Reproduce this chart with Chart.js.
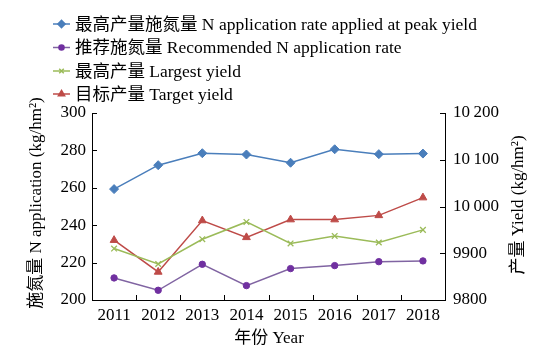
<!DOCTYPE html>
<html><head><meta charset="utf-8">
<script src="https://cdn.jsdelivr.net/npm/chart.js@4/dist/chart.umd.min.js"></script>
<style>html,body{margin:0;padding:0;background:#fff}#wrap{width:545px;height:355px}</style>
</head><body><div id="wrap"><canvas id="c" width="545" height="355"></canvas></div>
<script>
const years = ['2011','2012','2013','2014','2015','2016','2017','2018'];
const peakN = [259.3, 272.1, 278.5, 277.8, 273.4, 280.6, 278.0, 278.3];
const recN = [211.8, 205.2, 219.1, 207.7, 216.8, 218.4, 220.5, 220.9];
const largestYield = [9910, 9877, 9930, 9967, 9921, 9937, 9923, 9950];
const targetYield = [9928, 9860, 9970, 9934, 9972, 9972, 9981, 10019];
const leftTicks = [200, 220, 240, 260, 280, 300];
const rightTickValues = [9800, 9900, 10000, 10100, 10200];
const rightTicks = ['9800', '9900', '10\u2009000', '10\u2009100', '10\u2009200'];
const seriesNames = ['最高产量施氮量 N application rate applied at peak yield', '推荐施氮量 Recommended N application rate', '最高产量 Largest yield', '目标产量 Target yield'];

const FONT = "'Liberation Serif', 'Noto Sans CJK SC', serif";
const colors = {
  blue: '#4A7EBB', purple: '#8064A2', purpleM: '#7030A0', green: '#9BBB59', red: '#BE4B48'
};
const styles = [
  {line: colors.blue, mk: colors.blue, ps: 'rectRot', r: 4.5},
  {line: colors.purple, mk: colors.purpleM, ps: 'circle', r: 3.2},
  {line: colors.green, mk: colors.green, ps: 'crossRot', r: 4},
  {line: colors.red, mk: colors.red, ps: 'triangle', r: 4.5}
];
const dataArr = [peakN, recN, largestYield, targetYield];
const axes = ['y', 'y', 'y1', 'y1'];

const datasets = dataArr.map((d, i) => ({
  label: seriesNames[i], data: d, yAxisID: axes[i],
  borderColor: styles[i].line, backgroundColor: styles[i].mk,
  pointBorderColor: styles[i].mk, pointBackgroundColor: styles[i].mk,
  pointStyle: styles[i].ps, pointRadius: styles[i].r, pointBorderWidth: i === 2 ? 1.3 : 1,
  borderWidth: 1.5, tension: 0
}));

const deco = {
  id: 'deco',
  afterDraw(chart) {
    const ctx = chart.ctx;
    const {left, right, top, bottom} = chart.chartArea;
    ctx.save();
    ctx.strokeStyle = '#000'; ctx.lineWidth = 1;
    const ys = chart.scales.y, y1 = chart.scales.y1;
    ctx.beginPath();
    leftTicks.forEach(v => { const p = Math.round(ys.getPixelForValue(v)) + 0.5; ctx.moveTo(left, p); ctx.lineTo(left + 5, p); });
    rightTickValues.forEach(v => { const p = Math.round(y1.getPixelForValue(v)) + 0.5; ctx.moveTo(right, p); ctx.lineTo(right - 5, p); });
    const n = years.length;
    for (let i = 0; i <= n; i++) {
      const x = Math.round(left + i * (right - left) / n) + 0.5;
      ctx.moveTo(x, bottom); ctx.lineTo(x, bottom - 5);
    }
    ctx.stroke();
    ctx.fillStyle = '#000';
    ctx.font = '17px ' + FONT;
    ctx.textAlign = 'center'; ctx.textBaseline = 'middle';
    ctx.fillText('年份 Year', 269, 339);
    ctx.save(); ctx.translate(37, 203); ctx.rotate(-Math.PI / 2);
    ctx.fillText('施氮量 N application (kg/hm\u00B2)', 0, 0); ctx.restore();
    ctx.save(); ctx.translate(519, 205); ctx.rotate(-Math.PI / 2);
    ctx.fillText('产量 Yield (kg/hm\u00B2)', 0, 0); ctx.restore();
    const rows = [24, 47.5, 71, 94];
    ctx.font = '17.5px ' + FONT;
    rows.forEach((yy, i) => {
      ctx.strokeStyle = styles[i].line; ctx.lineWidth = 1.5;
      ctx.beginPath(); ctx.moveTo(53, yy); ctx.lineTo(70, yy); ctx.stroke();
      ctx.fillStyle = styles[i].mk; ctx.strokeStyle = styles[i].mk;
      Chart.helpers.drawPoint(ctx, {pointStyle: styles[i].ps, radius: styles[i].r * 0.8, borderWidth: 1}, 61.5, yy);
      ctx.fillStyle = '#000'; ctx.textAlign = 'left';
      ctx.fillText(seriesNames[i], 75, yy + 1);
    });
    ctx.restore();
  }
};

new Chart(document.getElementById('c'), {
  type: 'line',
  data: {labels: years, datasets},
  options: {
    responsive: false, animation: false, devicePixelRatio: 1,
    layout: {padding: {top: 113, left: 0, right: 0, bottom: 0}},
    plugins: {legend: {display: false}, tooltip: {enabled: false}},
    scales: {
      x: {
        offset: true,
        grid: {display: true, drawOnChartArea: false, drawTicks: false, offset: true},
        border: {display: true, color: '#000', width: 1},
        ticks: {color: '#000', font: {family: FONT, size: 17}, padding: 5, maxRotation: 0, autoSkip: false},
        afterFit(s) { s.height = 55; }
      },
      y: {
        position: 'left', min: 200, max: 300,
        grid: {display: true, drawOnChartArea: false, drawTicks: false},
        border: {display: true, color: '#000', width: 1},
        ticks: {stepSize: 20, color: '#000', font: {family: FONT, size: 17}, padding: 6},
        afterFit(s) { s.width = 92; }
      },
      y1: {
        position: 'right', min: 9800, max: 10200,
        grid: {display: true, drawOnChartArea: false, drawTicks: false},
        border: {display: true, color: '#000', width: 1},
        ticks: {stepSize: 100, color: '#000', font: {family: FONT, size: 17}, padding: 8,
          callback: (v) => rightTicks[rightTickValues.indexOf(v)]},
        afterFit(s) { s.width = 100; }
      }
    }
  },
  plugins: [deco]
});
</script></body></html>
